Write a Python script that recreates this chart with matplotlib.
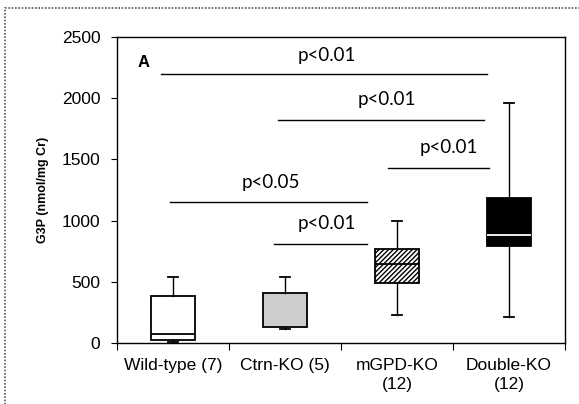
import matplotlib
matplotlib.use('Agg')
import matplotlib.pyplot as plt
from matplotlib.patches import Rectangle

# box statistics (nmol/mg Cr)
groups = ["Wild-type (7)", "Ctrn-KO (5)", "mGPD-KO\n(12)", "Double-KO\n(12)"]
whisker_low = [5, 114, 229, 212]
q1 = [25, 131, 490, 792]
median = [74, 131, 645, 882]
q3 = [384, 408, 768, 1185]
whisker_high = [539, 540, 997, 1961]

# significance bars: (start, end, height, label)
sig_x0 = [0.89, 1.94, 2.92, 0.97, 1.90]
sig_x1 = [3.80, 3.78, 3.82, 2.73, 2.73]
sig_y = [2198, 1822, 1430, 1152, 810]
sig_text_x = [2.37, 2.91, 3.46, 1.87, 2.37]
sig_text_y = [2350, 1990, 1595, 1315, 975]
sig_labels = ["p<0.01", "p<0.01", "p<0.01", "p<0.05", "p<0.01"]

plt.rcParams['font.family'] = ['Liberation Sans', 'DejaVu Sans']

fig = plt.figure(figsize=(5.79, 4.04), dpi=100)
ax = fig.add_axes([117 / 579, 61 / 404, 448 / 579, 306 / 404])

stats = []
for i in range(len(groups)):
    stats.append({"whislo": whisker_low[i], "q1": q1[i], "med": median[i],
                  "q3": q3[i], "whishi": whisker_high[i], "fliers": []})

positions = [1, 2, 3, 4]
res = ax.bxp(stats, positions=positions, widths=0.4, patch_artist=True,
             showfliers=False, capwidths=0.09,
             boxprops=dict(linewidth=1.3, edgecolor='black'),
             whiskerprops=dict(linewidth=1.0, color='black'),
             capprops=dict(linewidth=1.3, color='black'),
             medianprops=dict(linewidth=1.3, color='black'))

faces = ['white', '#cdcdcd', 'white', 'black']
hatches = [None, None, '///////', None]
plt.rcParams['hatch.linewidth'] = 0.8
for patch, fc, h in zip(res['boxes'], faces, hatches):
    patch.set_facecolor(fc)
    if h:
        patch.set_hatch(h)
res['medians'][3].set_color('white')
res['medians'][1].set_visible(False)

for x0, x1, y in zip(sig_x0, sig_x1, sig_y):
    ax.plot([x0, x1], [y, y], color='black', linewidth=1.0)
for tx, ty, lab in zip(sig_text_x, sig_text_y, sig_labels):
    ax.text(tx, ty, lab, ha='center', va='center', fontsize=13.5,
            family=['Lato', 'DejaVu Sans'])

ax.text(0.74, 2290, "A", fontsize=12, fontweight='bold', ha='center', va='center')

ax.set_xlim(0.5, 4.5)
ax.set_ylim(0, 2500)
ax.set_yticks([0, 500, 1000, 1500, 2000, 2500])
ax.set_xticks([0.5, 1.5, 2.5, 3.5, 4.5])
ax.set_xticklabels([])
ax.set_xticks(positions, minor=True)
ax.set_xticklabels(groups, minor=True, fontsize=12.5, linespacing=1.35)
ax.tick_params(axis='x', which='minor', length=0, pad=11)
ax.tick_params(axis='x', which='major', length=5, direction='out')
ax.tick_params(axis='y', labelsize=12.5, length=4, direction='out', pad=8)
for s in ax.spines.values():
    s.set_linewidth(1.0)
ax.set_ylabel("G3P (nmol/mg Cr)", fontsize=9, fontweight='bold', labelpad=9)

# dotted frame around the whole panel
fig.patches.append(Rectangle((5 / 579, -0.05), 1.0, (404 - 8) / 404 + 0.05,
                             transform=fig.transFigure, fill=False,
                             edgecolor='#555555', linewidth=1.2,
                             linestyle=(0, (1, 1))))

fig.savefig("out.png", dpi=100)
